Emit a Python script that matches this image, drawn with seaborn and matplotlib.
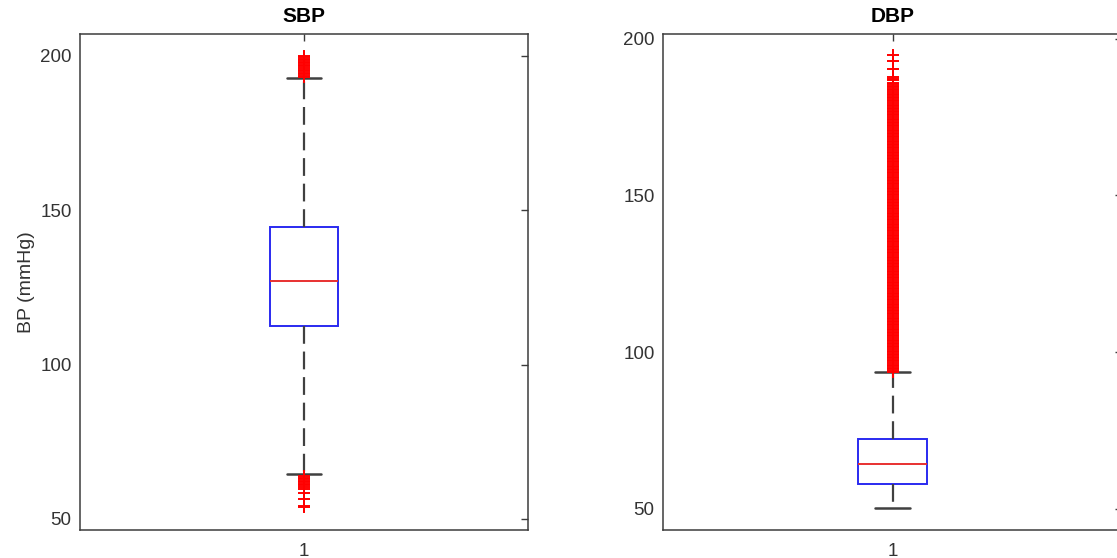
import numpy as np
import pandas as pd
import matplotlib
matplotlib.use("Agg")
import matplotlib.pyplot as plt
import seaborn as sns

# ---- data -------------------------------------------------------------
categories = ["1"]
panel_titles = ["SBP", "DBP"]

# box summary: lower whisker, Q1, median, Q3, upper whisker (mmHg)
sbp_box = [64.4, 112.5, 127.0, 144.6, 192.7]
dbp_box = [50.2, 57.9, 64.2, 72.2, 93.6]

sbp_low_outliers = [53.9, 54.3, 56.4, 58.3, 59.6,
                    60.4, 60.9, 61.4, 61.9, 62.4, 62.9, 63.4, 63.9]
sbp_high_outliers = [193.0, 193.5, 194.0, 194.5, 195.0, 195.5, 196.0, 196.5,
                     197.0, 197.5, 198.0, 198.5, 199.0, 199.5, 200.0]

dbp_low_outliers = []
dbp_high_outliers = [
    93.8, 94.0, 94.5, 95.0, 95.5, 96.0, 96.5, 97.0, 97.5, 98.0, 98.5, 99.0, 99.5,
    100.0, 100.5, 101.0, 101.5, 102.0, 102.5, 103.0, 103.5, 104.0, 104.5,
    105.0, 105.5, 106.0, 106.5, 107.0, 107.5, 108.0, 108.5, 109.0, 109.5,
    110.0, 110.5, 111.0, 111.5, 112.0, 112.5, 113.0, 113.5, 114.0, 114.5,
    115.0, 115.5, 116.0, 116.5, 117.0, 117.5, 118.0, 118.5, 119.0, 119.5,
    120.0, 120.5, 121.0, 121.5, 122.0, 122.5, 123.0, 123.5, 124.0, 124.5,
    125.0, 125.5, 126.0, 126.5, 127.0, 127.5, 128.0, 128.5, 129.0, 129.5,
    130.0, 130.5, 131.0, 131.5, 132.0, 132.5, 133.0, 133.5, 134.0, 134.5,
    135.0, 135.5, 136.0, 136.5, 137.0, 137.5, 138.0, 138.5, 139.0, 139.5,
    140.0, 140.5, 141.0, 141.5, 142.0, 142.5, 143.0, 143.5, 144.0, 144.5,
    145.0, 145.5, 146.0, 146.5, 147.0, 147.5, 148.0, 148.5, 149.0, 149.5,
    150.0, 150.5, 151.0, 151.5, 152.0, 152.5, 153.0, 153.5, 154.0, 154.5,
    155.0, 155.5, 156.0, 156.5, 157.0, 157.5, 158.0, 158.5, 159.0, 159.5,
    160.0, 160.5, 161.0, 161.5, 162.0, 162.5, 163.0, 163.5, 164.0, 164.5,
    165.0, 165.5, 166.0, 166.5, 167.0, 167.5, 168.0, 168.5, 169.0, 169.5,
    170.0, 170.5, 171.0, 171.5, 172.0, 172.5, 173.0, 173.5, 174.0, 174.5,
    175.0, 175.5, 176.0, 176.5, 177.0, 177.5, 178.0, 178.5, 179.0, 179.5,
    180.0, 180.5, 181.0, 181.5, 182.0, 182.5, 183.0, 183.5, 184.0, 184.5,
    185.0, 185.5, 185.8, 186.8, 187.3, 187.7, 190.2, 192.9, 194.7,
]

y_ticks = [50, 100, 150, 200]
sbp_ylim = (46.3, 207.0)
dbp_ylim = (43.1, 201.5)


def readings(box, low_out, high_out, weight=300):
    """Expand a five-number summary plus outliers into a sample whose
    quartiles and whisker ends reproduce the summary."""
    whislo, q1, med, q3, whishi = box
    core = np.repeat([q1, med, q3], weight)
    return np.concatenate([low_out, [whislo], core, [whishi], high_out])


# ---- style ------------------------------------------------------------
sns.set_style("white")
plt.rcParams["font.family"] = ["Liberation Sans", "DejaVu Sans"]
plt.rcParams["lines.scale_dashes"] = True

axis_color = "#3c3c3c"
text_color = "#333333"

fig = plt.figure(figsize=(11.17, 5.58), dpi=100)
W, H = 1117.0, 558.0
ax_sbp = fig.add_axes([80 / W, 27.6 / H, 447.6 / W, 496.4 / H])
ax_dbp = fig.add_axes([663 / W, 27.6 / H, 459 / W, 496.4 / H])

panels = [
    (ax_sbp, panel_titles[0], readings(sbp_box, sbp_low_outliers, sbp_high_outliers), sbp_ylim),
    (ax_dbp, panel_titles[1], readings(dbp_box, dbp_low_outliers, dbp_high_outliers), dbp_ylim),
]

for ax, title, values, ylim in panels:
    df = pd.DataFrame({"group": categories[0], "value": values})
    sns.boxplot(
        data=df, x="group", y="value", ax=ax,
        width=0.151, whis=1.5,
        boxprops=dict(facecolor="white", edgecolor="#2a2af0", linewidth=1.4),
        medianprops=dict(color="#e83030", linewidth=1.4),
        whiskerprops=dict(color="#404040", linewidth=1.6, linestyle=(0, (8, 3.5))),
        capprops=dict(color="#404040", linewidth=1.8),
        flierprops=dict(marker="+", markeredgecolor="red", markerfacecolor="red",
                        markersize=8.5, markeredgewidth=1.4, linestyle="none"),
    )
    ax.set_xlim(-0.5, 0.5)
    ax.set_ylim(*ylim)
    ax.set_yticks(y_ticks)
    ax.set_xlabel("")
    ax.set_ylabel("")
    ax.set_title(title, fontsize=15, fontweight="bold", color="black", pad=8.5)
    for side in ["left", "right", "top", "bottom"]:
        ax.spines[side].set_visible(True)
        ax.spines[side].set_color(axis_color)
        ax.spines[side].set_linewidth(1.1)
    ax.tick_params(axis="both", direction="in", length=5, width=1.0,
                   color=axis_color, labelcolor=text_color, labelsize=13.5,
                   top=True, right=True)
    ax.tick_params(axis="x", pad=9)
    ax.tick_params(axis="y", pad=6)
    ax.grid(False)

ax_sbp.set_ylabel("BP (mmHg)", fontsize=14, color=text_color, labelpad=4)

fig.savefig("out.png", dpi=100)
